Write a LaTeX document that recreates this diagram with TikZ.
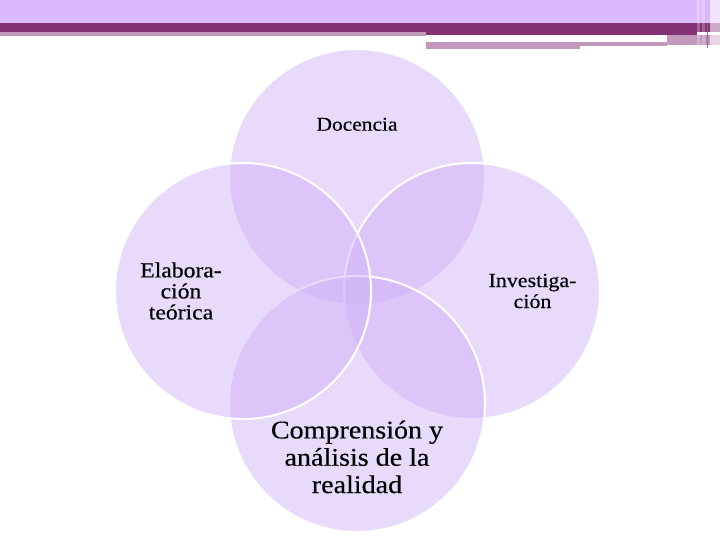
\documentclass[tikz,border=0pt]{standalone}
\usepackage{fontspec}
\setmainfont{Liberation Serif}[FakeStretch=1.1, FakeBold=0.35]
\definecolor{barlight}{RGB}{220,185,252}
\definecolor{bardark}{RGB}{131,48,117}
\definecolor{barpink}{RGB}{194,153,189}
\definecolor{circfill}{RGB}{207,178,247}
\definecolor{stripe}{RGB}{150,105,145}
\tikzset{
  venn/.style={circle, minimum size=256pt, inner sep=0pt, fill=circfill, fill opacity=0.48, draw=white, draw opacity=1, line width=2pt},
  lbl/.style={align=center, inner sep=0pt, text=black}
}
\begin{document}
\begin{tikzpicture}[x=1pt,y=-1pt]
\useasboundingbox (0,0) rectangle (720,540);
\fill[white] (0,0) rectangle (720,540);
% top decorative bar
\fill[barlight] (0,0) rectangle (720,23.5);
\fill[bardark] (0,23.5) rectangle (720,32.3);
\fill[barpink] (0,32.3) rectangle (426,36);
\fill[bardark] (426,32.3) rectangle (697,35.5);
\fill[barpink] (667,35.5) rectangle (720,45.5);
\fill[barpink] (426,42) rectangle (667,46);
\fill[barpink] (426,42) rectangle (580,49);
\fill[white, opacity=0.25] (697,0) rectangle (700,46);
\fill[white, opacity=0.25] (702,0) rectangle (705,46);
\fill[white, opacity=0.6] (710,0) rectangle (720,48);
\fill[stripe] (706.5,23.5) rectangle (707.5,48);
% circles (drawing order: top, right, bottom, left)
\node[venn] (doc) at (357,177) {};
\node[venn] (inv) at (472,291) {};
\node[venn] (com) at (357,404) {};
\node[venn] (ela) at (243,291) {};
% labels
\node[lbl, anchor=base, font=\fontsize{19.5}{21}\selectfont] (tdoc) at (357,130.7) {Docencia};
\node[lbl, font=\fontsize{21.5}{21}\selectfont] (tela) at (181,291) {Elabora-\\ción\\teórica};
\node[lbl, font=\fontsize{20}{21}\selectfont] (tinv) at (532.5,291) {Investiga-\\ción};
\node[lbl, font=\fontsize{25.5}{27.3}\selectfont] (tcom) at (357,457) {Comprensión y\\análisis de la\\realidad};
\end{tikzpicture}
\end{document}
